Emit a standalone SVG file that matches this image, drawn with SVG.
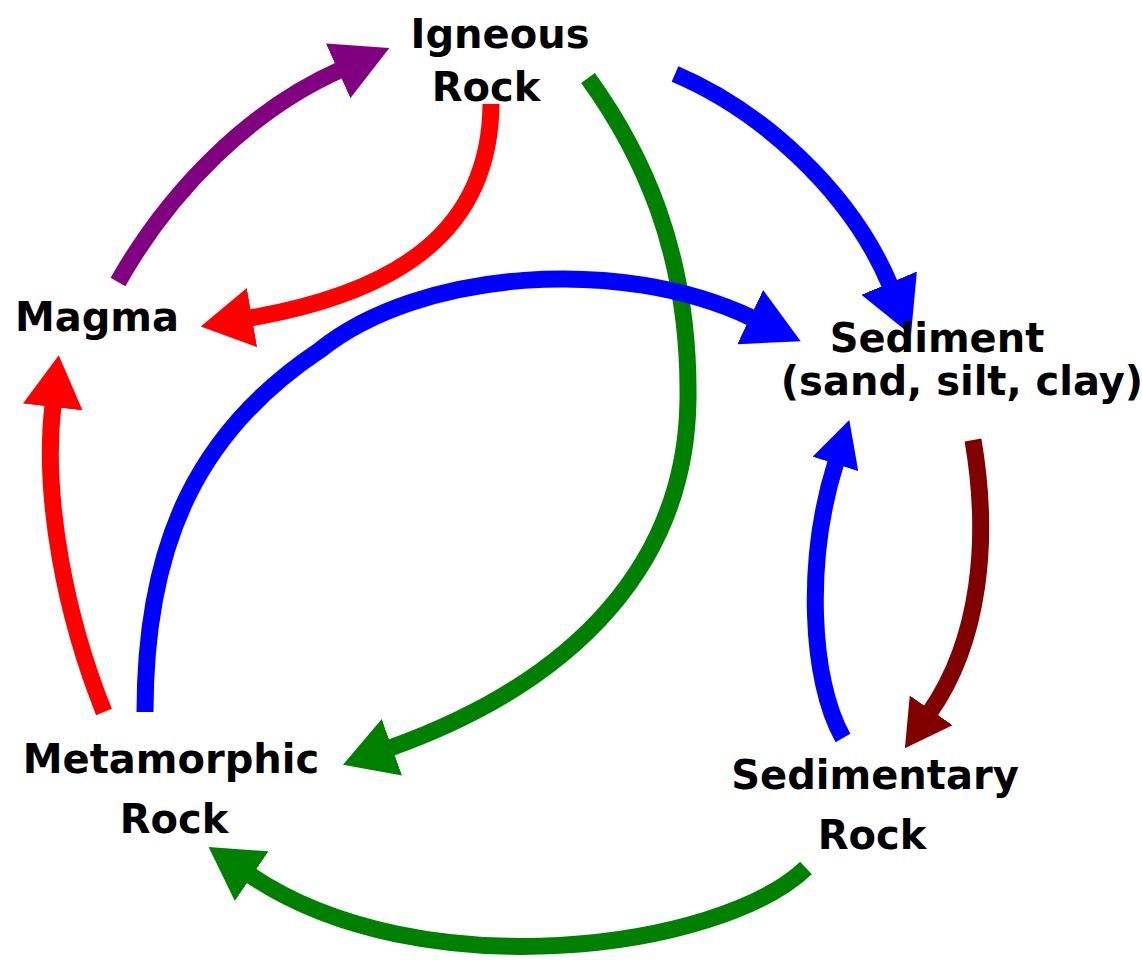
<svg xmlns="http://www.w3.org/2000/svg" width="1142" height="966" viewBox="0 0 1142 966">
<style>
  .lbl { font-family: "DejaVu Sans", "Liberation Sans", sans-serif; font-weight: bold; font-size: 40px; fill: #000; text-anchor: middle; }
  .arr { fill: none; stroke-width: 17; stroke-linecap: butt; }
</style>
<defs>
  <marker id="hPurple" viewBox="0 0 56 60" refX="2" refY="30" markerWidth="56" markerHeight="60" markerUnits="userSpaceOnUse" orient="auto"><path d="M0,0 L56,30 L0,60 z" fill="#800080"/></marker>
  <marker id="hRed" viewBox="0 0 52 60" refX="2" refY="30" markerWidth="52" markerHeight="60" markerUnits="userSpaceOnUse" orient="auto"><path d="M0,0 L52,30 L0,60 z" fill="#ff0000"/></marker>
  <marker id="hGreen" viewBox="0 0 52 60" refX="2" refY="30" markerWidth="52" markerHeight="60" markerUnits="userSpaceOnUse" orient="auto"><path d="M0,0 L52,30 L0,60 z" fill="#008000"/></marker>
  <marker id="hBlue" viewBox="0 0 56 60" refX="2" refY="30" markerWidth="56" markerHeight="60" markerUnits="userSpaceOnUse" orient="auto"><path d="M0,0 L56,30 L0,60 z" fill="#0000ff"/></marker>
  <marker id="hBlueS" viewBox="0 0 46 48" refX="2" refY="24" markerWidth="46" markerHeight="48" markerUnits="userSpaceOnUse" orient="auto"><path d="M0,0 L46,24 L0,48 z" fill="#0000ff"/></marker>
  <marker id="hMaroonS" viewBox="0 0 46 52" refX="2" refY="26" markerWidth="46" markerHeight="52" markerUnits="userSpaceOnUse" orient="auto"><path d="M0,0 L46,26 L0,52 z" fill="#800000"/></marker>
</defs>

<g id="connectors">
  <path id="magma-to-igneous" class="arr" stroke="#800080" d="M118,282 C170,190 250,110 340,70" marker-end="url(#hPurple)"/>
  <path id="igneous-to-magma" class="arr" stroke="#ff0000" d="M491,104 C490,230 400,292 250,318" marker-end="url(#hRed)"/>
  <path id="igneous-to-metamorphic" class="arr" stroke="#008000" d="M588,78 C640,150 690,250 688,400 C686,560 580,680 390,748" marker-end="url(#hGreen)"/>
  <path id="igneous-to-sediment" class="arr" stroke="#0000ff" d="M675,74 C760,110 850,190 890,285" marker-end="url(#hBlue)"/>
  <path id="metamorphic-to-sediment" class="arr" stroke="#0000ff" d="M145,712 C145,540 200,430 320,350 C420,270 620,255 752,318" marker-end="url(#hBlue)"/>
  <path id="metamorphic-to-magma" class="arr" stroke="#ff0000" d="M104,712 C67,620 42,500 53,405" marker-end="url(#hRed)"/>
  <path id="sedimentary-to-sediment" class="arr" stroke="#0000ff" d="M843,738 C810,680 805,560 836,462" marker-end="url(#hBlueS)"/>
  <path id="sediment-to-sedimentary" class="arr" stroke="#800000" d="M973,440 C990,540 980,640 930,712" marker-end="url(#hMaroonS)"/>
  <path id="sedimentary-to-metamorphic" class="arr" stroke="#008000" stroke-width="20" d="M806,868 C720,950 420,990 250,875" marker-end="url(#hGreen)"/>
</g>

<g id="igneous"><text class="lbl" x="500" y="48">Igneous</text><text class="lbl" x="486" y="101">Rock</text></g>
<g id="magma"><text class="lbl" x="97" y="331">Magma</text></g>
<g id="sediment"><text class="lbl" x="937" y="352">Sediment</text><text class="lbl" x="962" y="395">(sand, silt, clay)</text></g>
<g id="metamorphic"><text class="lbl" x="171" y="773">Metamorphic</text><text class="lbl" x="174" y="833">Rock</text></g>
<g id="sedimentary"><text class="lbl" x="875" y="789">Sedimentary</text><text class="lbl" x="872" y="849">Rock</text></g>
</svg>
